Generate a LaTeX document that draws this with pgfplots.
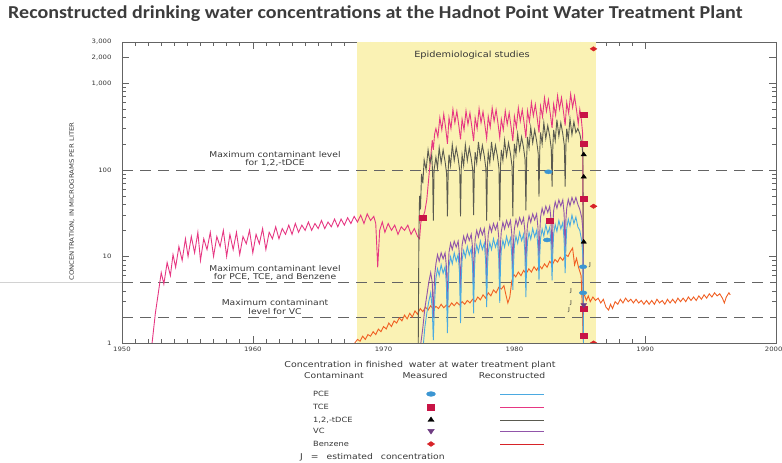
\documentclass[border=0pt]{standalone}
\usepackage{fontspec}
\usepackage{pgfplots}
\pgfplotsset{compat=1.18}
\newfontfamily\df{DejaVu Sans}[FakeStretch=1.15]
\newfontfamily\ttl{Carlito}[FakeStretch=1.1]
\definecolor{tce}{RGB}{230,55,130}
\definecolor{dce}{RGB}{90,90,80}
\definecolor{vc}{RGB}{145,85,170}
\definecolor{pce}{RGB}{75,170,225}
\definecolor{bz}{RGB}{240,95,35}
\definecolor{tceM}{RGB}{200,20,70}
\definecolor{bzM}{RGB}{215,35,40}
\definecolor{pceM}{RGB}{60,150,210}
\definecolor{vcM}{RGB}{110,60,130}
\definecolor{epi}{RGB}{250,242,180}
\definecolor{txt}{RGB}{55,55,55}
\definecolor{axc}{RGB}{100,100,100}
\begin{document}
\begin{tikzpicture}
\path[use as bounding box] (0,0) rectangle (782pt,463pt);
\node[anchor=base west, font=\ttl\bfseries\fontsize{18.2}{20}\selectfont, text={rgb,255:red,60;green,60;blue,60}, inner sep=0pt] at (8pt,444pt) {Reconstructed drinking water concentrations at the Hadnot Point Water Treatment Plant};
\draw[gray!35, line width=0.6pt] (0pt,181pt) -- (122pt,181pt);
\begin{axis}[
  at={(122pt,120pt)}, anchor=south west,
  scale only axis, width=654pt, height=301pt,
  xmin=1950, xmax=2000, ymin=1, ymax=3000, ymode=log, log basis y=10,
  xtick={1950,1960,1970,1980,1990}, minor x tick num=9,
  extra x ticks={2000},
  extra x tick style={xticklabel style={anchor=north east, xshift=10pt}},
  ytick={1,10,100,1000,2000,3000},
  yticklabels={1,10,100,{1,000},{2,000},{3,000}},
  minor ytick={2,3,4,5,6,7,8,9,20,30,40,50,60,70,80,90,200,300,400,500,600,700,800,900},
  tick align=inside, major tick length=7pt, minor tick length=4pt,
  axis line style={axc, line width=0.6pt},
  every tick/.style={axc, line width=0.5pt},
  /pgf/number format/1000 sep={},
  /pgf/number format/assume math mode=true,
  xticklabel style={font=\df\fontsize{6}{6}\selectfont, text=txt, yshift=-1pt},
  yticklabel style={font=\df\fontsize{6}{6}\selectfont, text=txt, xshift=-7pt},
  ylabel={CONCENTRATION, IN MICROGRAMS PER LITER},
  ylabel style={font=\df\fontsize{6}{6}\selectfont, text=txt, at={(axis description cs:-0.0765,0.47)}, anchor=center},
  clip marker paths=true,
]
\addplot[draw=none, fill=epi] coordinates {(1968,1) (1986.2,1) (1986.2,3000) (1968,3000)} -- cycle;
\addplot[axc, line width=0.6pt, dash pattern=on 11pt off 7pt] coordinates {(1950,100) (2000,100)};
\addplot[axc, line width=0.6pt, dash pattern=on 11pt off 7pt] coordinates {(1950,5) (2000,5)};
\addplot[axc, line width=0.6pt, dash pattern=on 11pt off 7pt] coordinates {(1950,2) (2000,2)};
% Benzene reconstructed
\addplot[bz, line width=0.9pt] coordinates {
(1967.8,1.0) (1968.0,1.1) (1968.2,1.05) (1968.4,1.2) (1968.6,1.1) (1968.8,1.25) (1969.0,1.2) (1969.2,1.35) (1969.4,1.25) (1969.6,1.45) (1969.8,1.35)
(1970.0,1.55) (1970.2,1.45) (1970.4,1.7) (1970.6,1.55) (1970.8,1.8) (1971.0,1.7) (1971.2,1.95) (1971.4,1.8) (1971.6,2.1) (1971.8,1.9)
(1972.0,2.2) (1972.2,2.0) (1972.4,2.35) (1972.6,2.15) (1972.8,2.5) (1973.0,2.3) (1973.2,2.6) (1973.4,2.4) (1973.6,2.7) (1973.8,2.45)
(1974.0,2.65) (1974.2,2.5) (1974.4,2.8) (1974.6,2.55) (1974.8,2.75) (1975.0,2.6) (1975.2,2.9) (1975.4,2.7) (1975.6,2.95) (1975.8,2.75)
(1976.0,3.0) (1976.2,2.8) (1976.4,3.1) (1976.6,2.9) (1976.8,3.2) (1977.0,3.0) (1977.2,3.4) (1977.4,3.15) (1977.6,3.6) (1977.8,3.3)
(1978.0,3.8) (1978.2,3.5) (1978.4,4.1) (1978.6,3.8) (1978.8,4.4) (1979.0,4.2) (1979.2,4.6) (1979.35,3.6) (1979.5,2.9) (1979.65,3.4) (1979.8,5.2) (1979.95,6.2)
(1980.1,5.8) (1980.3,6.6) (1980.5,6.0) (1980.7,6.9) (1980.9,6.3) (1981.1,7.2) (1981.3,6.6) (1981.5,7.6) (1981.7,6.9) (1981.9,7.9)
(1982.1,7.2) (1982.3,8.2) (1982.5,7.5) (1982.7,8.8) (1982.9,8.0) (1983.1,9.2) (1983.3,8.6) (1983.5,9.8) (1983.7,9.0) (1983.9,10.5)
(1984.1,10.0) (1984.3,11.5) (1984.45,12.5) (1984.6,8.0) (1984.75,9.5) (1984.9,7.5) (1985.1,6.0) (1985.22,2.0) (1985.28,1.0)};
\addplot[bz, line width=0.9pt] coordinates {
(1985.35,3.6) (1985.5,3.1) (1985.65,3.5) (1985.8,3.0) (1986.0,3.4) (1986.2,3.1) (1986.4,3.3) (1986.6,2.9) (1986.8,3.2) (1987.0,2.6) (1987.2,2.4) (1987.35,2.8) (1987.5,2.5) (1987.7,3.0) (1987.9,2.8)
(1988.1,3.2) (1988.3,2.9) (1988.5,3.3) (1988.7,3.0) (1988.9,3.2) (1989.1,2.9) (1989.3,3.2) (1989.5,2.9) (1989.7,3.1) (1989.9,2.8)
(1990.1,3.1) (1990.3,2.8) (1990.5,3.1) (1990.7,2.8) (1990.9,3.2) (1991.1,2.9) (1991.3,3.1) (1991.5,2.8) (1991.7,3.2) (1991.9,2.9)
(1992.1,3.2) (1992.3,2.9) (1992.5,3.3) (1992.7,3.0) (1992.9,3.3) (1993.1,3.0) (1993.3,3.4) (1993.5,3.1) (1993.7,3.4) (1993.9,3.1)
(1994.1,3.5) (1994.3,3.2) (1994.5,3.6) (1994.7,3.3) (1994.9,3.7) (1995.1,3.4) (1995.3,3.8) (1995.5,3.5) (1995.7,3.7) (1995.9,3.3)
(1996.05,2.9) (1996.2,3.4) (1996.4,3.8) (1996.5,3.6)};
% TCE reconstructed
\addplot[tce, line width=0.9pt] coordinates {
(1952.30,1.0) (1952.55,2.2) (1952.80,4.0) (1953.00,6.5) (1953.20,4.8) (1953.45,8.5) (1953.70,6.0) (1953.90,10.5) (1954.10,7.5) (1954.35,13) (1954.60,9) (1954.85,16)
(1955.05,10) (1955.30,17) (1955.55,11) (1955.80,19) (1956.00,9) (1956.25,16) (1956.50,12) (1956.75,19) (1957.00,10) (1957.25,17) (1957.50,13) (1957.75,20)
(1958.00,10) (1958.25,18) (1958.50,12) (1958.75,19) (1959.00,10.5) (1959.25,17) (1959.50,14) (1959.75,20) (1960.00,11) (1960.25,18) (1960.50,14) (1960.75,21)
(1961.00,12) (1961.25,19) (1961.50,16) (1961.75,22) (1962.00,16) (1962.25,21) (1962.50,18) (1962.75,23) (1963.00,18) (1963.25,24) (1963.50,19) (1963.75,23)
(1964.00,20) (1964.25,25) (1964.50,20) (1964.75,24) (1965.00,21) (1965.25,26) (1965.50,21) (1965.75,25) (1966.00,22) (1966.25,27) (1966.50,22) (1966.75,27)
(1967.00,23) (1967.25,28) (1967.50,24) (1967.75,29) (1968.00,25) (1968.25,30) (1968.50,24) (1968.75,31) (1969.00,26) (1969.25,29) (1969.40,24) (1969.55,7.5) (1969.70,20) (1969.90,25)
(1970.10,19) (1970.35,24) (1970.60,20) (1970.85,23) (1971.10,18) (1971.35,22) (1971.60,20) (1971.85,23) (1972.10,18) (1972.35,21) (1972.60,17) (1972.75,16)
(1972.85,25) (1973.00,28) (1973.15,33) (1973.30,45) (1973.45,80) (1973.60,140) (1973.72,220) (1973.80,170) (1973.90,260)
(1974.00,300) (1974.15,240) (1974.30,400) (1974.45,290) (1974.60,440) (1974.75,300) (1974.88,200)
(1975.00,400) (1975.15,300) (1975.30,500) (1975.45,350) (1975.60,475) (1975.75,325) (1975.88,225)
(1976.00,385) (1976.15,290) (1976.30,480) (1976.45,335) (1976.60,455) (1976.75,310) (1976.88,215)
(1977.00,400) (1977.15,300) (1977.30,510) (1977.45,350) (1977.60,470) (1977.75,325) (1977.88,230)
(1978.00,415) (1978.15,310) (1978.30,520) (1978.45,365) (1978.60,495) (1978.75,340) (1978.88,235)
(1979.00,385) (1979.15,290) (1979.30,480) (1979.45,335) (1979.60,455) (1979.75,310) (1979.88,215)
(1980.00,415) (1980.15,310) (1980.30,520) (1980.45,365) (1980.60,495) (1980.75,340) (1980.88,235)
(1981.00,480) (1981.15,360) (1981.30,600) (1981.45,420) (1981.60,570) (1981.75,390) (1981.88,270)
(1982.00,545) (1982.15,410) (1982.30,680) (1982.45,475) (1982.60,645) (1982.75,440) (1982.88,305)
(1983.00,575) (1983.15,430) (1983.30,720) (1983.45,505) (1983.60,685) (1983.75,470) (1983.88,325)
(1984.00,600) (1984.15,450) (1984.30,750) (1984.45,525) (1984.60,710) (1984.75,490) (1984.88,340)
(1985.00,500) (1985.12,380) (1985.22,260) (1985.28,1)};
% 1,2-tDCE reconstructed
\addplot[dce, line width=0.9pt] coordinates {
(1972.65,1) (1972.70,20) (1972.75,50) (1972.82,35) (1972.90,90) (1973.00,70) (1973.10,130) (1973.25,100) (1973.40,170) (1973.55,120) (1973.68,150) (1973.75,90) (1973.80,26) (1973.86,100)
(1974.00,140) (1974.12,105) (1974.25,180) (1974.40,120) (1974.55,170) (1974.70,125) (1974.82,90) (1974.88,29) (1974.94,100)
(1975.00,150) (1975.12,112) (1975.25,195) (1975.40,128) (1975.55,180) (1975.70,135) (1975.82,98) (1975.88,29) (1975.94,105)
(1976.00,150) (1976.12,112) (1976.25,195) (1976.40,128) (1976.55,180) (1976.70,135) (1976.82,98) (1976.88,30) (1976.94,105)
(1977.00,160) (1977.12,120) (1977.25,210) (1977.40,136) (1977.55,192) (1977.70,144) (1977.82,104) (1977.88,26) (1977.94,112)
(1978.00,160) (1978.12,120) (1978.25,210) (1978.40,136) (1978.55,192) (1978.70,144) (1978.82,104) (1978.88,26) (1978.94,112)
(1979.00,170) (1979.12,128) (1979.25,220) (1979.40,145) (1979.55,205) (1979.70,153) (1979.82,110) (1979.88,29) (1979.94,120)
(1980.00,200) (1980.12,150) (1980.25,260) (1980.40,170) (1980.55,240) (1980.70,180) (1980.82,130) (1980.88,34) (1980.94,140)
(1981.00,240) (1981.12,180) (1981.25,310) (1981.40,205) (1981.55,290) (1981.70,215) (1981.82,155) (1981.88,49) (1981.94,170)
(1982.00,270) (1982.12,200) (1982.25,350) (1982.40,230) (1982.55,325) (1982.70,245) (1982.82,175) (1982.88,64) (1982.94,190)
(1983.00,290) (1983.12,218) (1983.25,380) (1983.40,245) (1983.55,350) (1983.70,260) (1983.82,190) (1983.88,64) (1983.94,200)
(1984.00,300) (1984.12,225) (1984.25,390) (1984.40,255) (1984.55,360) (1984.70,270) (1984.85,300) (1985.00,260) (1985.15,200) (1985.24,150) (1985.28,1)};
% VC reconstructed
\addplot[vc, line width=0.9pt] coordinates {
(1972.85,1) (1973.00,1.5) (1973.15,2.5) (1973.30,3.5) (1973.45,5) (1973.60,6.5) (1973.72,5) (1973.80,2.0) (1973.90,6)
(1974.00,8.2) (1974.12,10.5) (1974.25,8.8) (1974.40,11) (1974.55,9.4) (1974.70,11) (1974.80,7.7) (1974.88,2.8) (1974.94,6.6)
(1975.00,11.2) (1975.12,14.2) (1975.25,12) (1975.40,15) (1975.55,12.8) (1975.70,15) (1975.80,10.5) (1975.88,3.8) (1975.94,9)
(1976.00,13.5) (1976.12,17.1) (1976.25,14.4) (1976.40,18) (1976.55,15.3) (1976.70,18) (1976.80,12.6) (1976.88,4.5) (1976.94,10.8)
(1977.00,15.8) (1977.12,20) (1977.25,16.8) (1977.40,21) (1977.55,17.8) (1977.70,21) (1977.80,14.7) (1977.88,5.2) (1977.94,12.6)
(1978.00,18) (1978.12,22.8) (1978.25,19.2) (1978.40,24) (1978.55,20.4) (1978.70,24) (1978.80,16.8) (1978.88,6) (1978.94,14.4)
(1979.00,19.5) (1979.12,24.7) (1979.25,20.8) (1979.40,26) (1979.55,22) (1979.70,26) (1979.80,18.2) (1979.88,6.5) (1979.94,15.6)
(1980.00,21) (1980.12,26.6) (1980.25,22.4) (1980.40,28) (1980.55,23.8) (1980.70,28) (1980.80,19.6) (1980.88,7) (1980.94,16.8)
(1981.00,23.2) (1981.12,29.4) (1981.25,24.8) (1981.40,31) (1981.55,26.4) (1981.70,31) (1981.80,21.7) (1981.88,7.8) (1981.94,18.6)
(1982.00,28.5) (1982.12,36) (1982.25,30.4) (1982.40,38) (1982.55,32.3) (1982.70,38) (1982.80,26.6) (1982.88,9.5) (1982.94,22.8)
(1983.00,33.8) (1983.12,42.8) (1983.25,36) (1983.40,45) (1983.55,38.2) (1983.70,45) (1983.80,31.5) (1983.88,11) (1983.94,27)
(1984.00,36) (1984.12,45.6) (1984.25,38.4) (1984.40,48) (1984.55,40.8) (1984.70,48) (1984.85,40) (1985.00,35) (1985.15,28) (1985.24,20) (1985.28,1)};
% PCE reconstructed
\addplot[pce, line width=0.9pt] coordinates {
(1973.05,1) (1973.15,1.5) (1973.30,2.2) (1973.45,3.0) (1973.60,3.8) (1973.72,2.5) (1973.80,1.08) (1973.90,3.0)
(1974.00,5.6) (1974.12,7.2) (1974.25,6.0) (1974.40,8) (1974.55,6.4) (1974.70,7.6) (1974.80,4.8) (1974.88,1.3) (1974.94,4.0)
(1975.00,7.7) (1975.12,9.9) (1975.25,8.2) (1975.40,11) (1975.55,8.8) (1975.70,10.5) (1975.80,6.6) (1975.88,1.7) (1975.94,5.5)
(1976.00,9.1) (1976.12,11.7) (1976.25,9.8) (1976.40,13) (1976.55,10.4) (1976.70,12.4) (1976.80,7.8) (1976.88,2.2) (1976.94,6.5)
(1977.00,10.5) (1977.12,13.5) (1977.25,11.2) (1977.40,15) (1977.55,12) (1977.70,14.2) (1977.80,9) (1977.88,2.6) (1977.94,7.5)
(1978.00,11.2) (1978.12,14.4) (1978.25,12) (1978.40,16) (1978.55,12.8) (1978.70,15.2) (1978.80,9.6) (1978.88,2.9) (1978.94,8)
(1979.00,11.9) (1979.12,15.3) (1979.25,12.8) (1979.40,17) (1979.55,13.6) (1979.70,16.2) (1979.80,10.2) (1979.88,4.1) (1979.94,8.5)
(1980.00,13.3) (1980.12,17.1) (1980.25,14.2) (1980.40,19) (1980.55,15.2) (1980.70,18) (1980.80,11.4) (1980.88,3.4) (1980.94,9.5)
(1981.00,14.7) (1981.12,18.9) (1981.25,15.8) (1981.40,21) (1981.55,16.8) (1981.70,20) (1981.80,12.6) (1981.88,5.3) (1981.94,10.5)
(1982.00,16.1) (1982.12,20.7) (1982.25,17.2) (1982.40,23) (1982.55,18.4) (1982.70,21.8) (1982.80,13.8) (1982.88,5.3) (1982.94,11.5)
(1983.00,18.2) (1983.12,23.4) (1983.25,19.5) (1983.40,26) (1983.55,20.8) (1983.70,24.7) (1983.80,15.6) (1983.88,6.4) (1983.94,13)
(1984.00,21) (1984.12,27) (1984.25,22.5) (1984.40,30) (1984.55,24) (1984.70,28.5) (1984.85,22) (1985.00,20) (1985.15,15) (1985.24,10) (1985.28,1)};
% measured values
\addplot[only marks, mark=*, mark size=2.4pt, mark options={xscale=1.6, yscale=0.85, fill=pceM, draw=pceM}] coordinates {(1982.6,95) (1982.5,15.5) (1985.25,7.6) (1985.25,3.8)};
\addplot[only marks, mark=square*, mark size=2.6pt, mark options={xscale=1.25, yscale=0.95, fill=tceM, draw=tceM}] coordinates {(1973.0,28) (1982.7,26) (1985.3,430) (1985.3,200) (1985.3,46) (1985.3,2.5) (1985.3,1.2)};
\addplot[only marks, mark=triangle*, mark size=2.6pt, mark options={xscale=1.2, fill=black, draw=black}] coordinates {(1985.3,150) (1985.3,83) (1985.3,14.7)};
\addplot[only marks, mark=triangle*, mark size=2.8pt, mark options={rotate=180, xscale=1.2, fill=vcM, draw=vcM}] coordinates {(1985.3,2.75)};
\addplot[only marks, mark=diamond*, mark size=2.8pt, mark options={xscale=1.6, yscale=0.8, fill=bzM, draw=bzM}] coordinates {(1986.05,2500) (1986.05,38) (1986.05,1.0)};
\end{axis}
% overlay axis for the legend symbols
\begin{axis}[at={(0pt,0pt)}, anchor=south west, scale only axis, width=782pt, height=463pt, xmin=0, xmax=782, ymin=0, ymax=463, hide axis, clip=false]
\addplot[only marks, mark=*, mark size=2.8pt, mark options={xscale=1.6, yscale=0.85, fill=pceM, draw=pceM}] coordinates {(431,69)};
\addplot[only marks, mark=square*, mark size=2.9pt, mark options={xscale=1.25, yscale=0.95, fill=tceM, draw=tceM}] coordinates {(431,56)};
\addplot[only marks, mark=triangle*, mark size=3pt, mark options={xscale=1.2, fill=black, draw=black}] coordinates {(431,43)};
\addplot[only marks, mark=triangle*, mark size=3.1pt, mark options={rotate=180, xscale=1.2, fill=vcM, draw=vcM}] coordinates {(431,32)};
\addplot[only marks, mark=diamond*, mark size=3.1pt, mark options={xscale=1.6, yscale=0.8, fill=bzM, draw=bzM}] coordinates {(431,19)};
\addplot[pce, line width=0.8pt] coordinates {(500,69) (544,69)};
\addplot[tce, line width=0.8pt] coordinates {(500,56) (544,56)};
\addplot[dce, line width=0.8pt] coordinates {(500,43) (544,43)};
\addplot[vc, line width=0.8pt] coordinates {(500,32) (544,32)};
\addplot[bzM, line width=0.8pt] coordinates {(500,19) (544,19)};
\end{axis}
% annotations
\begin{scope}[every node/.style={font=\df\fontsize{8}{8.5}\selectfont, text=txt, align=center, inner sep=0pt}]
\node at (275pt,304pt) {Maximum contaminant level\\for 1,2,-tDCE};
\node at (275pt,190pt) {Maximum contaminant level\\for PCE, TCE, and Benzene};
\node at (275pt,156pt) {Maximum contaminant\\level for VC};
\node[font=\df\fontsize{8.5}{9}\selectfont] at (472pt,408pt) {Epidemiological studies};
\node[font=\df\fontsize{5.5}{6}\selectfont] at (590pt,198pt) {J};
\node[font=\df\fontsize{5.5}{6}\selectfont] at (571pt,172pt) {J};
\node[font=\df\fontsize{5.5}{6}\selectfont] at (571pt,160pt) {J};
\node[font=\df\fontsize{5.5}{6}\selectfont] at (569pt,153pt) {J};
\node[font=\df\fontsize{8.2}{9}\selectfont] at (420pt,98pt) {Concentration in finished\ \ water at water treatment plant};
\node at (334pt,87pt) {Contaminant};
\node at (425pt,87pt) {Measured};
\node at (512pt,87pt) {Reconstructed};
\node[anchor=west, font=\df\fontsize{7.2}{8}\selectfont] at (313pt,69pt) {PCE};
\node[anchor=west, font=\df\fontsize{7.2}{8}\selectfont] at (313pt,56pt) {TCE};
\node[anchor=west, font=\df\fontsize{7.2}{8}\selectfont] at (313pt,43pt) {1,2,-tDCE};
\node[anchor=west, font=\df\fontsize{7.2}{8}\selectfont] at (313pt,32pt) {VC};
\node[anchor=west, font=\df\fontsize{7.2}{8}\selectfont] at (313pt,19pt) {Benzene};
\node[anchor=west, font=\df\fontsize{8}{8.5}\selectfont] at (300pt,6pt) {J\quad=\quad estimated\quad concentration};
\end{scope}
\end{tikzpicture}
\end{document}
